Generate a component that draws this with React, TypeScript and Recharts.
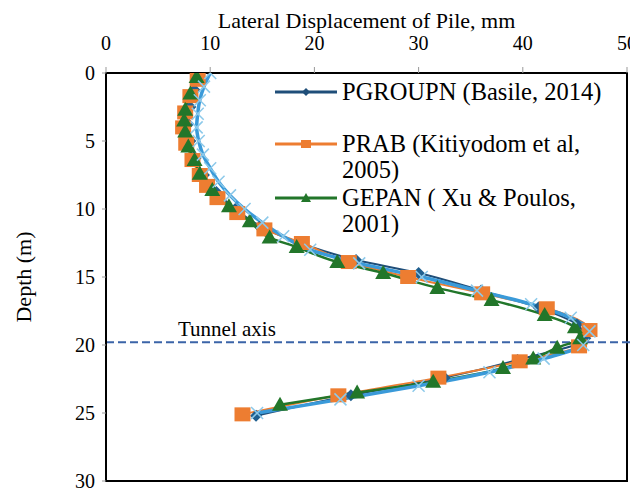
import React from 'react';
import { LineChart, Line, XAxis, YAxis, ReferenceLine, ReferenceArea } from 'recharts';

const FONT = '"Liberation Serif", "Times New Roman", serif';

const DISP_TICKS = [0, 10, 20, 30, 40, 50];
const DEPTH_TICKS = [0, 5, 10, 15, 20, 25, 30];
const TUNNEL_DEPTH = 19.8;

// PGROUPN (Basile, 2014)
const pgroupnDepth = [0, 1.25, 2.5, 3.75, 5, 6.25, 7.5, 8.75, 10, 11.25, 12.5, 13.75, 14.7, 16, 17.25, 18.5, 19.5, 21.1, 22.4, 23.7, 25.2];
const pgroupnDisp = [9.0, 8.5, 8.1, 7.9, 8.1, 8.6, 9.4, 10.6, 12.4, 14.8, 18.6, 24.0, 30.0, 36.0, 41.5, 45.2, 46.0, 39.5, 32.5, 23.5, 14.4];

// PRAB (Kitiyodom et al, 2005)
const prabDepth = [0.5, 1.7, 2.9, 4.0, 5.2, 6.4, 7.5, 8.3, 9.2, 10.3, 11.5, 12.5, 13.9, 15.0, 16.2, 17.3, 18.9, 20.1, 21.2, 22.4, 23.7, 25.1];
const prabDisp = [8.8, 8.1, 7.6, 7.4, 7.7, 8.3, 9.0, 9.7, 10.7, 12.6, 15.2, 18.8, 23.3, 29.0, 36.1, 42.3, 46.4, 45.4, 39.7, 31.9, 22.3, 13.1];

// GEPAN (Xu & Poulos, 2001)
const gepanDepth = [0.3, 1.5, 2.7, 3.5, 4.3, 5.4, 6.4, 7.4, 8.6, 9.8, 10.9, 12.1, 12.8, 13.9, 14.7, 15.8, 16.7, 17.8, 18.7, 19.5, 20.2, 21.0, 21.7, 22.7, 23.5, 24.4];
const gepanDisp = [8.7, 8.1, 7.6, 7.5, 7.6, 7.9, 8.5, 9.0, 10.2, 11.8, 13.8, 15.7, 18.3, 22.2, 26.6, 31.8, 37.0, 42.1, 45.0, 45.5, 43.3, 41.0, 38.1, 31.4, 24.1, 16.7];

// unlabelled light blue series (x markers)
const blueDepth = [0, 1, 2, 3, 4, 5, 6, 7, 8, 9, 10, 11, 12, 13, 14, 15, 16, 17, 18, 19, 20, 21, 22, 23, 24, 25];
const blueDisp = [10.0, 9.4, 9.0, 8.8, 8.7, 8.9, 9.3, 10.0, 10.8, 11.9, 13.3, 15.0, 17.0, 19.6, 24.3, 30.3, 35.6, 40.8, 44.6, 46.4, 45.8, 42.0, 36.8, 30.0, 22.5, 14.5];

const zip = (depths: number[], disps: number[]) => depths.map((depth, i) => ({ depth, disp: disps[i] }));

const pgroupnData = zip(pgroupnDepth, pgroupnDisp);
const prabData = zip(prabDepth, prabDisp);
const gepanData = zip(gepanDepth, gepanDisp);
const blueData = zip(blueDepth, blueDisp);

const C_PGROUPN = '#1F4E79';
const C_PRAB = '#ED7D31';
const C_GEPAN = '#22762A';
const C_BLUE = '#3A9AD9';
const C_BLUE_MARK = '#8CC9EA';

const diamond = (props: any) => {
    const { cx, cy, index } = props;
    if (cx == null || cy == null) return <g key={index} />;
    return <path key={index} d={`M${cx},${cy - 6}L${cx + 6},${cy}L${cx},${cy + 6}L${cx - 6},${cy}Z`} fill="#1F5F8F" />;
};

const square = (props: any) => {
    const { cx, cy, index } = props;
    if (cx == null || cy == null) return <g key={index} />;
    return <rect key={index} x={cx - 8} y={cy - 7} width={16} height={14} fill={C_PRAB} />;
};

const triangle = (props: any) => {
    const { cx, cy, index } = props;
    if (cx == null || cy == null) return <g key={index} />;
    return <path key={index} d={`M${cx},${cy - 8}L${cx + 8},${cy + 6}L${cx - 8},${cy + 6}Z`} fill={C_GEPAN} />;
};

const cross = (props: any) => {
    const { cx, cy, index } = props;
    if (cx == null || cy == null) return <g key={index} />;
    return (
        <g key={index} stroke={C_BLUE_MARK} strokeWidth={1.5}>
            <line x1={cx - 6} y1={cy - 6} x2={cx + 6} y2={cy + 6} />
            <line x1={cx - 6} y1={cy + 6} x2={cx + 6} y2={cy - 6} />
        </g>
    );
};

const LEGEND = [
    { lines: ['PGROUPN (Basile, 2014)'], color: C_PGROUPN, marker: 'diamond', gap: 26 },
    { lines: ['PRAB (Kitiyodom et al,', '2005)'], color: C_PRAB, marker: 'square', gap: 2 },
    { lines: ['GEPAN ( Xu & Poulos,', '2001)'], color: C_GEPAN, marker: 'triangle', gap: 0 },
];

function LegendMarker({ kind, color }: { kind: string; color: string }) {
    if (kind === 'diamond') return <path d="M31,9L35,13L31,17L27,13Z" fill={color} />;
    if (kind === 'square') return <rect x={26} y={9} width={10} height={8} fill={color} />;
    return <path d="M31,8L36,17L26,17Z" fill={color} />;
}

function ChartLegend() {
    return (
        <div style={{ position: 'absolute', left: 267, top: 71, fontFamily: FONT, fontSize: 24.5, lineHeight: '26px', color: '#000' }}>
            {LEGEND.map(item => (
                <div key={item.lines[0]} style={{ display: 'flex', alignItems: 'flex-start', marginBottom: item.gap }}>
                    <svg width={62} height={26} style={{ flex: 'none' }}>
                        <line x1={0} x2={62} y1={13} y2={13} stroke={item.color} strokeWidth={3} />
                        <LegendMarker kind={item.marker} color={item.color} />
                    </svg>
                    <div style={{ marginLeft: 5, whiteSpace: 'nowrap' }}>
                        {item.lines.map(l => <div key={l}>{l}</div>)}
                    </div>
                </div>
            ))}
        </div>
    );
}

const depthLabel = (props: any) => {
    const { viewBox } = props;
    const cx = viewBox.x + 15;
    const cy = viewBox.y + viewBox.height / 2;
    return (
        <text x={cx} y={cy} transform={`rotate(-90 ${cx} ${cy})`} textAnchor="middle" dominantBaseline="central"
            fontFamily={FONT} fontSize={22} fill="#000">
            Depth (m)
        </text>
    );
};

const tunnelLabel = (props: any) => {
    const { viewBox } = props;
    return (
        <text x={viewBox.x + 72} y={viewBox.y - 6} fontFamily={FONT} fontSize={21} fill="#000">
            Tunnel axis
        </text>
    );
};

export default function App() {
    return (
        <div style={{ position: 'relative', width: 630, height: 485 }}>
            <LineChart width={630} height={485} layout="vertical" margin={{ top: 0, right: 11, bottom: 12, left: 0 }}>
                <XAxis
                    type="number"
                    dataKey="disp"
                    orientation="top"
                    domain={[0, 50]}
                    ticks={DISP_TICKS}
                    allowDataOverflow
                    height={65}
                    tickSize={6}
                    tickMargin={17}
                    axisLine={{ stroke: '#000', strokeWidth: 2 }}
                    tickLine={{ stroke: '#999' }}
                    tick={{ fontSize: 20, fill: '#000', fontFamily: FONT }}
                    label={{ value: 'Lateral Displacement of Pile, mm', position: 'insideTop', offset: 4, fontSize: 22, fill: '#000', fontFamily: FONT }}
                />
                <YAxis
                    type="number"
                    dataKey="depth"
                    domain={[0, 30]}
                    ticks={DEPTH_TICKS}
                    allowDataOverflow
                    width={98}
                    tickSize={4}
                    tickMargin={7}
                    axisLine={{ stroke: '#000', strokeWidth: 2 }}
                    tickLine={{ stroke: '#999' }}
                    tick={{ fontSize: 20, fill: '#000', fontFamily: FONT }}
                    label={depthLabel}
                />
                <ReferenceArea x1={0} x2={50} y1={0} y2={30} fill="none" stroke="#000" strokeWidth={2} />
                <ReferenceLine
                    segment={[{ x: 0, y: TUNNEL_DEPTH }, { x: 51.6, y: TUNNEL_DEPTH }]}
                    ifOverflow="visible"
                    stroke="#3B64A8"
                    strokeWidth={2}
                    strokeDasharray="8 4"
                    label={tunnelLabel}
                />
                <Line data={pgroupnData} dataKey="disp" type="monotone" stroke={C_PGROUPN} strokeWidth={2} dot={diamond} isAnimationActive={false} />
                <Line data={prabData} dataKey="disp" type="monotone" stroke={C_PRAB} strokeWidth={2} dot={square} isAnimationActive={false} />
                <Line data={gepanData} dataKey="disp" type="monotone" stroke={C_GEPAN} strokeWidth={2.5} dot={triangle} isAnimationActive={false} />
                <Line data={blueData} dataKey="disp" type="monotone" stroke={C_BLUE} strokeWidth={3.5} dot={cross} isAnimationActive={false} />
            </LineChart>
            <ChartLegend />
        </div>
    );
}
